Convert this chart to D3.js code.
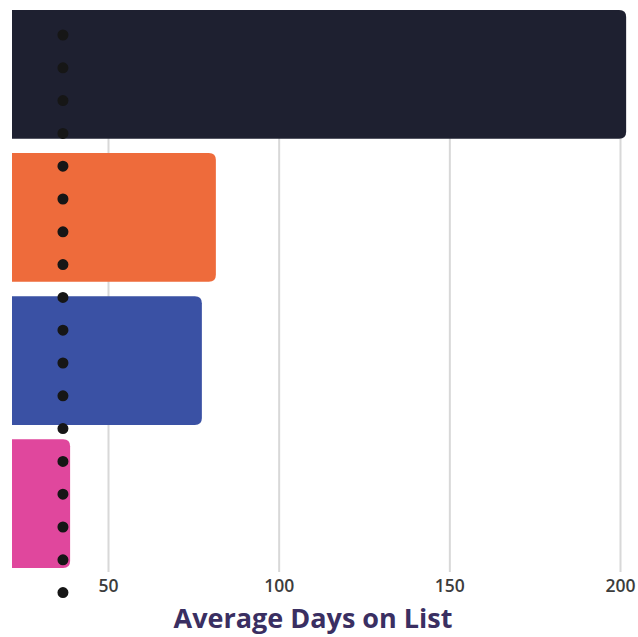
<!DOCTYPE html>
<html>
<head>
<meta charset="utf-8">
<script src="https://cdn.jsdelivr.net/npm/d3@7"></script>
<style>
  html, body { margin: 0; padding: 0; background: #ffffff; }
  svg { display: block; }
</style>
</head>
<body>
<svg id="chart" width="638" height="637"></svg>
<script>
// Average days on list per group
const categories = ["Group 1", "Group 2", "Group 3", "Group 4"];
const avgDays = [201.8, 81.6, 77.5, 38.9];
const barColors = ["#1e2030", "#ee6b3b", "#3a51a4", "#e0479d"];
const tickValues = [50, 100, 150, 200];
const referenceDays = 36.8;
const axisTitle = "Average Days on List";

const svg = d3.select("#chart");
const W = 638, H = 637;

// Plot area: the left part of the value axis lies outside the visible frame
const plotLeft = 12, plotTop = 10, plotBottom = 568;

const x = d3.scaleLinear()
  .domain([50, 200])
  .range([108, 620]);

const y = d3.scaleBand()
  .domain(categories)
  .range([plotTop, plotBottom])
  .paddingInner(0.1)
  .paddingOuter(0);

svg.append("defs").append("clipPath")
  .attr("id", "plot-clip")
  .append("rect")
  .attr("x", plotLeft).attr("y", 0)
  .attr("width", W - plotLeft).attr("height", H);

// Vertical grid lines with tick labels
const gridBottom = 572;
const axis = d3.axisBottom(x)
  .tickValues(tickValues)
  .tickSize(-(gridBottom - plotTop))
  .tickPadding(8)
  .tickFormat(d3.format("d"));

const gAxis = svg.append("g")
  .attr("transform", `translate(0,${gridBottom})`)
  .call(axis);
gAxis.select(".domain").remove();
gAxis.selectAll(".tick line")
  .attr("stroke", "#d8d8d8")
  .attr("stroke-width", 2);
gAxis.selectAll(".tick text")
  .attr("fill", "#3c3c3c")
  .attr("font-family", "'Open Sans', sans-serif")
  .attr("font-weight", 600)
  .attr("font-size", 17.5);

// Bars, rounded at the value end
const plot = svg.append("g").attr("clip-path", "url(#plot-clip)");
const r = 7;
function barPath(d, i) {
  const x0 = x(0) - 20;
  const x1 = x(avgDays[i]);
  const y0 = y(categories[i]);
  const y1 = y0 + y.bandwidth();
  return `M${x0},${y0}H${x1 - r}Q${x1},${y0} ${x1},${y0 + r}` +
         `V${y1 - r}Q${x1},${y1} ${x1 - r},${y1}H${x0}Z`;
}
plot.selectAll("path.bar")
  .data(categories)
  .join("path")
  .attr("class", "bar")
  .attr("d", barPath)
  .attr("fill", (d, i) => barColors[i]);

// Dotted reference line
plot.append("line")
  .attr("x1", x(referenceDays)).attr("x2", x(referenceDays))
  .attr("y1", 35).attr("y2", 593)
  .attr("stroke", "#161616")
  .attr("stroke-width", 11)
  .attr("stroke-linecap", "round")
  .attr("stroke-dasharray", "0 32.8");

// Axis title
svg.append("text")
  .attr("x", 313)
  .attr("y", 628)
  .attr("text-anchor", "middle")
  .attr("fill", "#3a2f62")
  .attr("font-family", "'Open Sans', sans-serif")
  .attr("font-weight", 700)
  .attr("font-size", 27)
  .text(axisTitle);
</script>
</body>
</html>
